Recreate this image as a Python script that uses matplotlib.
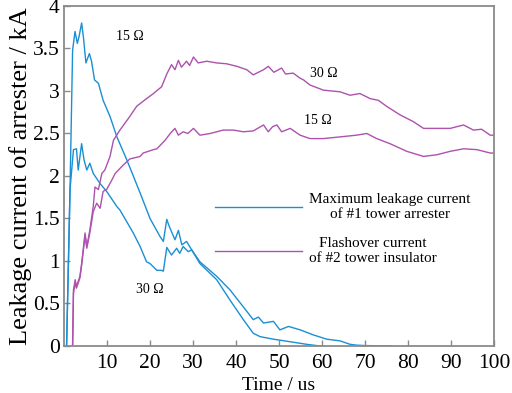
import matplotlib
matplotlib.use("Agg")
import matplotlib.pyplot as plt

plt.rcParams['font.family'] = ['Liberation Serif', 'DejaVu Serif']

# ---- data ----
blue15_t = [0.6, 1.4, 2.0, 2.56, 3.1, 3.5, 4.1, 4.5, 5.1, 5.9, 6.4, 7.1, 8.0, 9.1, 10.7, 12.3,
            14.6, 17.7, 20.0, 22.3, 23.1, 23.9, 24.3, 24.7, 25.8, 26.6, 27.4, 28.5, 29.7, 31.6,
            35.5, 38.6, 41.7, 44.0, 45.2, 46.4, 48.7, 50.2, 52.2, 54.9, 58.0, 61.1, 64.2, 66.5, 68.0, 70.0, 76.0]
blue15_y = [0.0, 1.84, 3.48, 3.70, 3.56, 3.64, 3.80, 3.64, 3.33, 3.44, 3.35, 3.13, 3.09, 2.89, 2.70, 2.46,
            2.19, 1.80, 1.50, 1.29, 1.23, 1.49, 1.43, 1.38, 1.25, 1.36, 1.19, 1.23, 1.13, 0.99,
            0.82, 0.66, 0.46, 0.31, 0.34, 0.27, 0.29, 0.19, 0.23, 0.19, 0.13, 0.08, 0.06, 0.02, 0.01, 0.005, 0.0]

blue30_t = [0.6, 1.4, 2.2, 2.9, 3.3, 4.1, 4.65, 5.3, 6.0, 6.8, 8.4, 9.9, 12.3, 13.0, 15.3, 16.1,
            17.7, 19.2, 20.0, 21.6, 22.7, 23.1, 23.9, 25.0, 26.2, 26.9, 27.7, 28.9, 29.7, 31.6,
            35.5, 38.6, 41.7, 44.0, 45.6, 48.7, 52.6, 56.4, 59.5, 60.0]
blue30_y = [0.0, 1.84, 2.31, 2.32, 2.07, 2.38, 2.19, 2.07, 2.15, 2.03, 1.91, 1.82, 1.64, 1.60, 1.40, 1.33,
            1.17, 0.99, 0.97, 0.89, 0.89, 0.88, 1.16, 1.07, 1.15, 1.09, 1.17, 1.11, 1.13, 0.97,
            0.78, 0.54, 0.31, 0.15, 0.11, 0.08, 0.05, 0.02, 0.0, 0.0]

purple30_t = [2.0, 2.2, 2.6, 2.9, 3.7, 4.1, 4.9, 5.3, 6.0, 6.8, 7.2, 8.0, 8.8, 9.5, 10.7, 11.5,
              13.0, 15.3, 16.9, 19.2, 20.8, 22.7, 23.9, 25.0, 25.8, 26.6, 27.3, 28.5, 29.2, 30.1,
              31.2, 33.2, 35.5, 37.8, 40.2, 42.5, 44.0, 46.4, 47.5, 48.8, 50.6, 51.5, 53.3, 54.9,
              55.7, 57.2, 60.3, 64.2, 66.5, 68.8, 71.2, 73.1, 75.0, 78.1, 81.2, 83.6, 86.7, 89.8,
              92.9, 95.2, 97.1, 99.1, 100.0]
purple30_y = [0.0, 0.66, 0.78, 0.70, 0.82, 0.97, 1.33, 1.17, 1.36, 1.64, 1.87, 1.84, 2.03, 2.07, 2.23, 2.42,
              2.54, 2.70, 2.82, 2.91, 2.97, 3.05, 3.20, 3.31, 3.25, 3.36, 3.28, 3.35, 3.30, 3.40,
              3.33, 3.35, 3.33, 3.32, 3.29, 3.25, 3.19, 3.25, 3.29, 3.22, 3.27, 3.20, 3.21, 3.15,
              3.13, 3.07, 3.01, 2.99, 2.95, 2.97, 2.91, 2.89, 2.82, 2.72, 2.64, 2.56, 2.56, 2.56,
              2.60, 2.54, 2.55, 2.48, 2.48]

purple15_t = [2.0, 2.2, 2.6, 2.9, 3.7, 4.1, 4.9, 5.3, 6.0, 6.8, 7.6, 8.4, 9.1, 9.9, 11.1, 11.9,
              13.8, 15.3, 17.7, 18.4, 20.8, 21.6, 23.5, 24.7, 25.8, 26.6, 27.7, 28.8, 30.1, 31.6,
              34.0, 37.0, 39.4, 41.7, 44.0, 46.4, 47.5, 48.5, 49.5, 50.6, 52.6, 54.9, 57.2, 60.3,
              64.2, 68.0, 70.4, 72.7, 75.8, 79.7, 83.6, 86.7, 89.8, 92.9, 96.0, 99.1, 100.0]
purple15_y = [0.0, 0.62, 0.74, 0.68, 0.80, 0.95, 1.30, 1.15, 1.33, 1.58, 1.68, 1.62, 1.82, 1.84, 1.95, 2.03,
              2.13, 2.20, 2.23, 2.27, 2.31, 2.32, 2.42, 2.50, 2.56, 2.48, 2.52, 2.50, 2.56, 2.48,
              2.50, 2.54, 2.54, 2.52, 2.53, 2.60, 2.52, 2.58, 2.60, 2.52, 2.56, 2.48, 2.44, 2.44,
              2.46, 2.48, 2.50, 2.44, 2.38, 2.29, 2.23, 2.25, 2.29, 2.32, 2.31, 2.27, 2.27]

xticks = [10, 20, 30, 40, 50, 60, 70, 80, 90, 100]
yticks = [0, 0.5, 1, 1.5, 2, 2.5, 3, 3.5, 4]
ytick_labels = ['0', '0.5', '1', '1.5', '2', '2.5', '3', '3.5', '4']

legend_labels = ['Maximum leakage current\nof #1 tower arrester',
                 'Flashover current\nof #2 tower insulator']
annotations = [('15 Ω', 15.3, 3.64), ('30 Ω', 60.5, 3.21), ('15 Ω', 59.0, 2.65), ('30 Ω', 20.0, 0.66)]

BLUE = '#1a8fd3'
PURPLE = '#ad52ad'
SPINE = '#8a8a8a'

fig = plt.figure(figsize=(5.12, 3.93), dpi=100)
ax = fig.add_axes([0.125, 0.1196, 0.840, 0.8652])

lb, = ax.plot(blue15_t, blue15_y, color=BLUE, lw=1.0)
ax.plot(blue30_t, blue30_y, color=BLUE, lw=1.0)
lp, = ax.plot(purple30_t, purple30_y, color=PURPLE, lw=1.0)
ax.plot(purple15_t, purple15_y, color=PURPLE, lw=1.0)

ax.set_xlim(0, 100)
ax.set_ylim(0, 4)
ax.set_xticks(xticks)
ax.set_yticks(yticks)
ax.set_yticklabels(ytick_labels)
ax.tick_params(direction='in', length=4, width=1, color=SPINE, labelsize=15.5)
ax.tick_params(axis='x', pad=6)
ax.tick_params(axis='y', pad=3)
for s in ax.spines.values():
    s.set_color(SPINE)
    s.set_linewidth(1.3)

ax.set_xlabel('Time / us', fontsize=14, labelpad=3)
ax.set_ylabel('Leakage current of arrester / kA', fontsize=19, labelpad=1)

for txt, x, y in annotations:
    ax.text(x, y, txt, fontsize=10, ha='center', va='center')

leg = ax.legend([lb, lp], legend_labels, loc='upper left', bbox_to_anchor=(0.352, 0.449),
                frameon=False, fontsize=11, handlelength=5.7, handletextpad=0.45,
                labelspacing=1.05, borderpad=0, borderaxespad=0)
for t in leg.get_texts():
    t.set_multialignment('center')

fig.savefig('out.png', dpi=100)
